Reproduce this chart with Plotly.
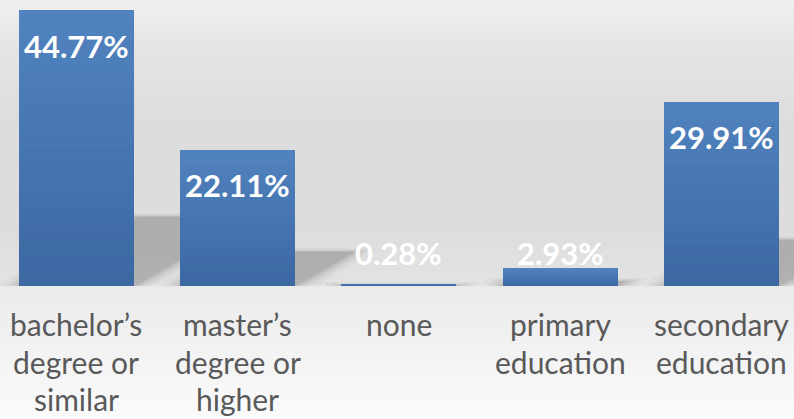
import plotly.graph_objects as go

# ---- data ----
categories = ["bachelor’s degree or similar", "master’s degree or higher", "none",
              "primary education", "secondary education"]
label_lines = [["bachelor’s", "degree or", "similar"],
               ["master’s", "degree or", "higher"],
               ["none"],
               ["primary", "education"],
               ["secondary", "education"]]
values = [44.77, 22.11, 0.28, 2.93, 29.91]
value_text = ["44.77%", "22.11%", "0.28%", "2.93%", "29.91%"]

# ---- layout constants ----
W, H = 794, 419
BASE_PX = 286            # baseline pixel row
PX_PER_UNIT = 6.165      # pixels per percentage point
X_RANGE = [-0.474, 4.450]
BAR_W = 0.713

def lerp(c1, c2, t):
    return tuple(round(a + (b - a) * t) for a, b in zip(c1, c2))

def rgb(c):
    return "rgb(%d,%d,%d)" % c

fig = go.Figure()

# gradient bars: overlaid, progressively shorter and darker
top_c, bot_c = (80, 130, 190), (60, 105, 162)
N = 18
xs = list(range(len(categories)))
for k in range(N):
    frac = 1 - k / N
    col = lerp(top_c, bot_c, k / (N - 1))
    fig.add_trace(go.Bar(
        x=xs, y=[v * frac for v in values], width=BAR_W,
        marker=dict(color=rgb(col), line=dict(width=0)),
        hoverinfo="skip", showlegend=False))

shapes = []
# background gradient bands (paper coords)
stops = [(0, (240, 240, 240)), (40, (230, 230, 230)), (120, (221, 221, 221)),
         (230, (221, 221, 221)), (284, (227, 227, 227)), (286, (234, 234, 234)),
         (300, (236, 236, 236)), (419, (251, 251, 251))]
def bg_at(y):
    for (y0, c0), (y1, c1) in zip(stops, stops[1:]):
        if y0 <= y <= y1:
            return lerp(c0, c1, (y - y0) / (y1 - y0) if y1 > y0 else 0)
    return stops[-1][1]
step = 2
for y in range(0, H, step):
    shapes.append(dict(type="rect", xref="paper", yref="paper", layer="below",
                       x0=0, x1=1, y0=1 - (y + step) / H, y1=1 - y / H,
                       fillcolor=rgb(bg_at(y + step / 2)), line=dict(width=0)))

# soft perspective shadows behind bars
for i, v in enumerate(values):
    x0, x1 = i - BAR_W / 2, i + BAR_W / 2
    s = 0.0166 * v
    h = 0.25 * v
    for e, op in [(0.14, 0.04), (0.10, 0.05), (0.07, 0.06), (0.04, 0.07),
                  (0.02, 0.08), (0.0, 0.08)]:
        ey = e * 6
        path = "M %f,0 L %f,0 L %f,%f L %f,%f Z" % (
            x0 - e, x1 + e, x1 + s + e, h + ey - e * 2, x0 + s - e, h + ey - e * 2)
        shapes.append(dict(type="path", xref="x", yref="y", layer="below",
                           path=path, fillcolor="rgb(80,80,80)", opacity=op,
                           line=dict(width=0)))

annotations = []
# value labels
for i, (v, t) in enumerate(zip(values, value_text)):
    annotations.append(dict(x=i, y=max(v - 5.76, 5.43), xref="x", yref="y",
                            text="<b>%s</b>" % t, showarrow=False,
                            xanchor="center", yanchor="middle",
                            font=dict(family="Lato", size=31, color="white")))
# category labels
line_centers = [324, 361.5, 399]
for i, lines in enumerate(label_lines):
    for j, ln in enumerate(lines):
        annotations.append(dict(x=i, y=1 - line_centers[j] / H, xref="x", yref="paper",
                                text=ln, showarrow=False, xanchor="center",
                                yanchor="middle",
                                font=dict(family="Lato", size=30,
                                          color="rgb(89,89,89)")))

fig.update_layout(
    width=W, height=H, margin=dict(l=0, r=0, t=0, b=0, pad=0),
    barmode="overlay", bargap=0,
    paper_bgcolor="rgb(240,240,240)", plot_bgcolor="rgba(0,0,0,0)",
    shapes=shapes, annotations=annotations, showlegend=False,
    xaxis=dict(range=X_RANGE, visible=False, fixedrange=True, automargin=False),
    yaxis=dict(range=[0, BASE_PX / PX_PER_UNIT], domain=[(H - BASE_PX) / H, 1],
               visible=False, fixedrange=True, automargin=False),
)

fig.write_html("out.html", config={"displayModeBar": False},
               post_script="document.body.style.margin='0';document.body.style.overflow='hidden';")
